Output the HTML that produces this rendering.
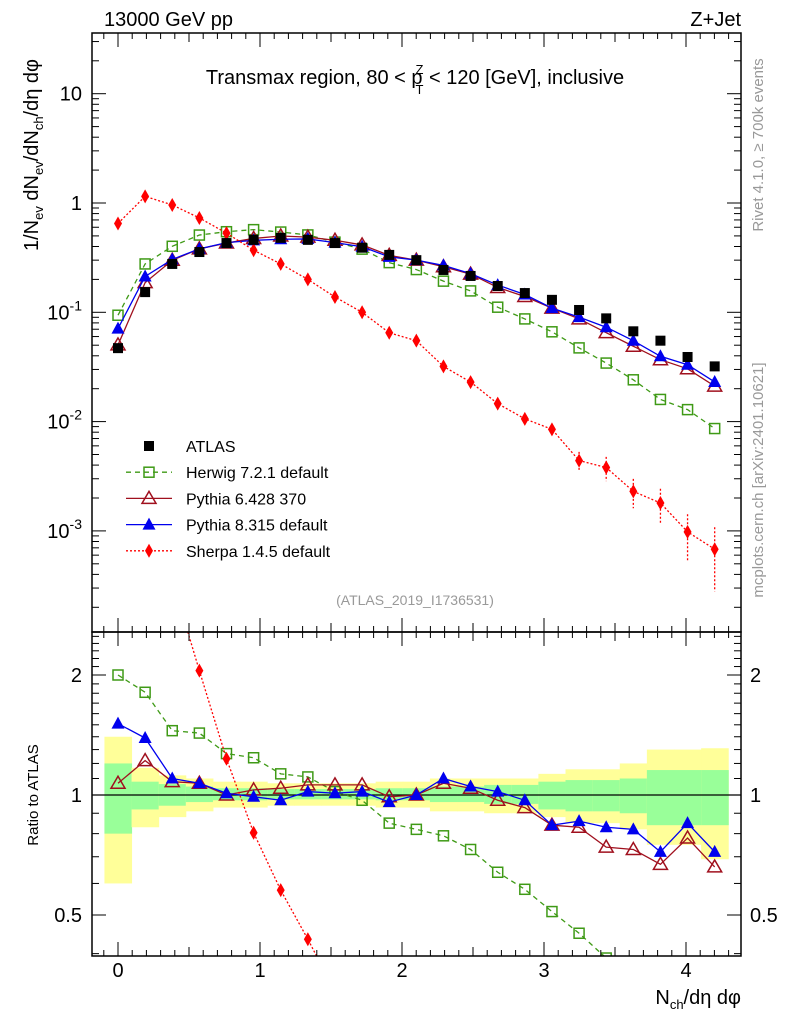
<!DOCTYPE html>
<html><head><meta charset="utf-8"><style>
html,body{margin:0;padding:0;background:#fff;overflow:hidden;width:786px;height:1024px;}
svg text{font-family:"Liberation Sans",Arial,sans-serif;}
</style></head><body>
<svg id="c" width="786" height="1024" viewBox="0 0 786 1024" xmlns="http://www.w3.org/2000/svg" style="display:block;overflow:hidden">
<text x="104" y="26" font-size="20">13000 GeV pp</text>
<text x="741" y="26" font-size="20" text-anchor="end">Z+Jet</text>
<text x="415" y="84" font-size="20" text-anchor="middle">Transmax region, 80 &lt; p<tspan font-size="13" dx="-7" dy="-10">Z</tspan><tspan font-size="13" dx="-8" dy="20">T</tspan><tspan dy="-10"> &lt; 120 [GeV], inclusive</tspan></text>
<text transform="translate(763,145) rotate(-90)" font-size="15" fill="#999" text-anchor="middle">Rivet 4.1.0, ≥ 700k events</text>
<text transform="translate(763,480) rotate(-90)" font-size="15" fill="#999" text-anchor="middle">mcplots.cern.ch [arXiv:2401.10621]</text>
<text transform="translate(38,155) rotate(-90)" font-size="20" text-anchor="middle">1/N<tspan font-size="13" dy="5">ev</tspan><tspan dy="-5"> dN</tspan><tspan font-size="13" dy="5">ev</tspan><tspan dy="-5">/dN</tspan><tspan font-size="13" dy="5">ch</tspan><tspan dy="-5">/dη dφ</tspan></text>
<text transform="translate(38,795) rotate(-90)" font-size="15" text-anchor="middle">Ratio to ATLAS</text>
<text x="741" y="1004" font-size="20" text-anchor="end">N<tspan font-size="13" dy="5">ch</tspan><tspan dy="-5">/dη dφ</tspan></text>
<text x="415" y="605" font-size="14" fill="#999" text-anchor="middle">(ATLAS_2019_I1736531)</text>
<g id="g"></g>
</svg>
<script>
const xs=[0,1,2,3,4,5,6,7,8,9,10,11,12,13,14,15,16,17,18,19,20,21,22];
const binW=0.191;
const atlas=[0.047,0.153,0.277,0.356,0.43,0.46,0.48,0.46,0.43,0.39,0.335,0.30,0.244,0.215,0.174,0.15,0.13,0.105,0.088,0.067,0.055,0.039,0.032];
const herwigRatio=[2.0,1.81,1.45,1.43,1.27,1.24,1.13,1.11,1.02,0.97,0.85,0.82,0.79,0.73,0.64,0.58,0.51,0.45,0.39,0.36,0.29,0.33,0.27];
const pythia6Ratio=[1.07,1.22,1.08,1.07,1.0,1.03,1.04,1.06,1.06,1.06,0.99,1.0,1.07,1.04,0.97,0.93,0.84,0.83,0.74,0.73,0.67,0.78,0.66];
const pythia8Ratio=[1.51,1.39,1.1,1.07,1.01,0.99,0.97,1.02,1.01,1.02,0.96,1.0,1.1,1.05,1.02,0.97,0.84,0.86,0.83,0.82,0.72,0.85,0.72];
const sherpa=[0.65,1.15,0.96,0.73,0.53,0.37,0.277,0.2,0.138,0.1,0.065,0.055,0.032,0.023,0.0146,0.0106,0.0085,0.0044,0.0038,0.0023,0.0018,0.00098,0.00068];
const sherpaErr=[0.02,0.02,0.02,0.02,0.02,0.02,0.02,0.03,0.03,0.03,0.04,0.04,0.05,0.06,0.08,0.1,0.12,0.2,0.25,0.3,0.35,0.45,0.59];
const yellowUp=[1.40,1.17,1.12,1.10,1.08,1.08,1.07,1.07,1.07,1.07,1.08,1.08,1.10,1.10,1.10,1.10,1.13,1.16,1.16,1.2,1.30,1.30,1.31];
const yellowDn=[0.60,0.83,0.88,0.91,0.93,0.93,0.94,0.94,0.94,0.94,0.93,0.93,0.91,0.91,0.90,0.90,0.88,0.85,0.85,0.82,0.75,0.75,0.69];
const greenUp=[1.20,1.08,1.065,1.05,1.04,1.04,1.035,1.035,1.035,1.035,1.04,1.04,1.05,1.05,1.06,1.06,1.08,1.09,1.09,1.10,1.155,1.155,1.155];
const greenDn=[0.80,0.92,0.94,0.96,0.97,0.97,0.975,0.975,0.975,0.975,0.97,0.97,0.96,0.96,0.95,0.95,0.92,0.91,0.91,0.90,0.84,0.84,0.84];
const mainTicks=[[1,"10"],[0,"1"],[-1,"10^-1"],[-2,"10^-2"],[-3,"10^-3"]];
const ratioTicks=[[2,"2"],[1,"1"],[0.5,"0.5"]];
const xTicks=[0,1,2,3,4];

const NS="http://www.w3.org/2000/svg";
const g=document.getElementById('g');
const L=92,R=741,T=33,M=632,B=956;
const X=v=>118+v*142;
const XI=i=>X(i*binW);
const Y=v=>203-109.3*Math.log10(v);
const RY=r=>795-120*Math.log2(r);
function el(t,a,p){const e=document.createElementNS(NS,t);for(const k in a)e.setAttribute(k,a[k]);(p||g).appendChild(e);return e;}
const defs=el('defs',{});
const c1=el('clipPath',{id:'cm'},defs);el('rect',{x:L,y:T,width:R-L,height:M-T},c1);
const c2=el('clipPath',{id:'cr'},defs);el('rect',{x:L,y:M,width:R-L,height:B-M},c2);
const gm=el('g',{'clip-path':'url(#cm)'});


const gr=el('g',{'clip-path':'url(#cr)'});


xs.forEach(i=>{
 const x0=XI(i-0.5),x1=XI(i+0.5);
 const y=el('rect',{x:x0,y:RY(yellowUp[i]),width:x1-x0+0.5,height:RY(yellowDn[i])-RY(yellowUp[i]),fill:'#ffff99'},gr);
 
 
 const gg=el('rect',{x:x0,y:RY(greenUp[i]),width:x1-x0+0.5,height:RY(greenDn[i])-RY(greenUp[i]),fill:'#99ff99'},gr);
 
 
});
el('line',{x1:L,x2:R,y1:795,y2:795,stroke:'#000','stroke-width':1.2},gr);
[[T,M],[M,B]].forEach(([a,b])=>el('rect',{x:L,y:a,width:R-L,height:b-a,fill:'none',stroke:'#000','stroke-width':1.5}));
for(let k=-1;k<=43;k++){const v=k/10;const x=X(v);if(x<L||x>R)continue;const major=k%10===0;const len=major?14:(k%5===0?9:6);
 [[T,1],[M,-1],[M,1],[B,-1]].forEach(([yy,d])=>el('line',{x1:x,x2:x,y1:yy,y2:yy+d*len,stroke:'#000'}));}
xTicks.forEach(v=>{const t=el('text',{x:X(v),y:977,'font-size':20,'text-anchor':'middle'});t.textContent=v;
 
 });
for(let d=-4;d<=1;d++)for(let m=1;m<=9;m++){const v=m*Math.pow(10,d);const y=Y(v);if(y<T||y>M)continue;const len=m===1?14:7;
 el('line',{x1:L,x2:L+len,y1:y,y2:y,stroke:'#000'});el('line',{x1:R,x2:R-len,y1:y,y2:y,stroke:'#000'});}
mainTicks.forEach(([e,s])=>{const y=Y(Math.pow(10,e))+7;const t=el('text',{x:82,y:y,'font-size':20,'text-anchor':'end'});
 if(s.indexOf('^')>0){t.textContent='10';const ts=el('tspan',{'font-size':14,dy:-9},t);ts.textContent=s.split('^')[1];}else t.textContent=s;
 
 });
for(let v=0.3;v<=2.6;v+=0.1){const r=Math.round(v*10)/10;const y=RY(r);if(y<M||y>B)continue;const len=(r===0.5||r===1||r===2)?14:7;
 el('line',{x1:L,x2:L+len,y1:y,y2:y,stroke:'#000'});el('line',{x1:R,x2:R-len,y1:y,y2:y,stroke:'#000'});}
ratioTicks.forEach(([r,s])=>{[[82,'end'],[750,'start']].forEach(([x,a])=>{const t=el('text',{x:x,y:RY(r)+7,'font-size':20,'text-anchor':a});t.textContent=s;
 
 });});
function marker(type,x,y,col,p){
 if(type==='sq')return el('rect',{x:x-5,y:y-5,width:10,height:10,fill:col},p);
 if(type==='osq')return el('rect',{x:x-5,y:y-5,width:10,height:10,fill:'none',stroke:col,'stroke-width':1.5},p);
 if(type==='otri')return el('polygon',{points:`${x},${y-7} ${x-7},${y+5} ${x+7},${y+5}`,fill:'none',stroke:col,'stroke-width':1.5},p);
 if(type==='tri')return el('polygon',{points:`${x},${y-7} ${x-6.5},${y+5} ${x+6.5},${y+5}`,fill:col},p);
 return el('polygon',{points:`${x},${y-7} ${x-4},${y} ${x},${y+7} ${x+4},${y}`,fill:col},p);
}
const series=[
 {name:'herwig',vals:xs.map(i=>atlas[i]*herwigRatio[i]),col:'#3f9a16',dash:'5,4',m:'osq'},
 {name:'pythia6',vals:xs.map(i=>atlas[i]*pythia6Ratio[i]),col:'#a0101e',dash:'',m:'otri'},
 {name:'pythia8',vals:xs.map(i=>atlas[i]*pythia8Ratio[i]),col:'#0000ee',dash:'',m:'tri'},
 {name:'sherpa',vals:sherpa,col:'#ff0000',dash:'2,2',m:'dia',err:sherpaErr}
];
series.forEach(s=>{
 [gm,gr].forEach((p,pi)=>{
  const yf=pi===0?Y:RY;
  const vals=pi===0?s.vals:xs.map(i=>s.vals[i]/atlas[i]);
  const pl=el('polyline',{points:xs.map(i=>XI(i)+','+yf(vals[i])).join(' '),fill:'none',stroke:s.col,'stroke-width':1.3,'stroke-dasharray':s.dash},p);
  
  
  xs.forEach(i=>{
   if(s.err){const e=s.err[i];el('line',{x1:XI(i),x2:XI(i),y1:yf(vals[i]*(1+e)),y2:yf(vals[i]*(1-e)),stroke:s.col,'stroke-width':1.3,'stroke-dasharray':'2,2'},p);}
   const mk=marker(s.m,XI(i),yf(vals[i]),s.col,p);
   
   
  });
 });
});
xs.forEach(i=>{const mk=marker('sq',XI(i),Y(atlas[i]),'#000',gm);
 
 });
const leg=[['ATLAS','sq','#000',''],['Herwig 7.2.1 default','osq','#3f9a16','5,4'],['Pythia 6.428 370','otri','#a0101e',''],['Pythia 8.315 default','tri','#0000ee',''],['Sherpa 1.4.5 default','dia','#ff0000','2,2']];
leg.forEach((l,k)=>{const y=446+k*26.2;
 if(k>0)el('line',{x1:126,x2:172,y1:y,y2:y,stroke:l[2],'stroke-width':1.3,'stroke-dasharray':l[3]});
 marker(l[1],149,y,l[2]);
 const t=el('text',{x:186,y:y+6,'font-size':16});t.textContent=l[0];
 
 });
</script>
</body></html>
